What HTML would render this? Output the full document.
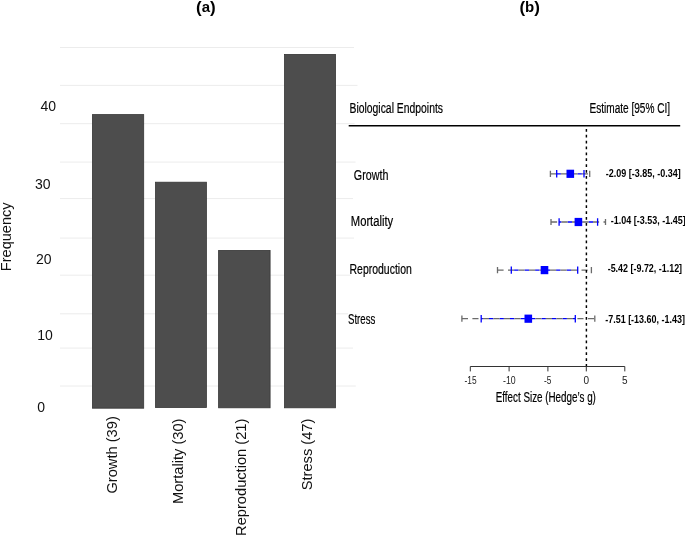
<!DOCTYPE html>
<html>
<head>
<meta charset="utf-8">
<title>Figure</title>
<style>
html,body{margin:0;padding:0;background:#fff;}
body{width:685px;height:535px;overflow:hidden;position:relative;font-family:"Liberation Sans",sans-serif;}
svg{position:absolute;left:0;top:0;display:block;will-change:transform;}
text{font-family:"Liberation Sans",sans-serif;fill:#000;}
.grid line{stroke:#ececec;stroke-width:1;}
.bar{fill:#4d4d4d;stroke:#363636;stroke-width:0.8;}
.ax{font-size:14px;fill:#111;}
.xl{font-size:14.67px;fill:#111;}
.rl{font-size:14px;stroke:#000;stroke-width:0.2px;}
.rw{font-size:14px;}
.est{font-size:10.4px;font-weight:bold;}
.tk{font-size:10px;fill:#1a1a1a;}
.g{stroke:#6b6b6b;stroke-width:1.3;fill:none;}
.b{stroke:#0000ff;stroke-width:1.3;fill:none;}
.sq{fill:#0000ff;}
</style>
</head>
<body>
<svg width="685" height="535" viewBox="0 0 685 535">
<rect x="0" y="0" width="685" height="535" fill="#ffffff"/>

<!-- panel titles -->
<text x="196.0" y="11.8" font-size="15" font-weight="bold"><tspan font-size="17" dy="1.3">(</tspan><tspan dy="-1.3" dx="0">a</tspan><tspan font-size="17" dy="1.3" dx="0">)</tspan></text>
<text x="519.4" y="11.8" font-size="15" font-weight="bold"><tspan font-size="17" dy="1.3">(</tspan><tspan dy="-1.3" dx="0">b</tspan><tspan font-size="17" dy="1.3" dx="0">)</tspan></text>

<!-- gridlines -->
<g class="grid">
<line x1="60" x2="354.0" y1="47.5" y2="47.5"/>
<line x1="60" x2="357.5" y1="85.4" y2="85.4"/>
<line x1="60" x2="354.6" y1="123.7" y2="123.7"/>
<line x1="60" x2="355.5" y1="162.1" y2="162.1"/>
<line x1="60" x2="353.0" y1="198.6" y2="198.6"/>
<line x1="60" x2="354.0" y1="238.1" y2="238.1"/>
<line x1="60" x2="350.7" y1="275.2" y2="275.2"/>
<line x1="60" x2="348.0" y1="313.8" y2="313.8"/>
<line x1="60" x2="353.0" y1="348.1" y2="348.1"/>
<line x1="60" x2="355.8" y1="386.0" y2="386.0"/>
</g>

<!-- bars -->
<rect class="bar" x="92.40" y="114.60" width="51.30" height="293.60"/>
<rect class="bar" x="155.50" y="182.20" width="50.90" height="225.30"/>
<rect class="bar" x="218.60" y="250.40" width="51.50" height="157.40"/>
<rect class="bar" x="284.50" y="54.40" width="51.00" height="353.40"/>

<!-- y tick labels -->
<text class="ax" x="40.4" y="111.2">40</text>
<text class="ax" x="35.0" y="188.5">30</text>
<text class="ax" x="36.0" y="263.9">20</text>
<text class="ax" x="37.2" y="340.3">10</text>
<text class="ax" x="37.3" y="411.8">0</text>

<!-- y axis title -->
<text class="xl" style="font-size:15.2px" transform="translate(10.9,271.2) rotate(-90)" textLength="68.8" lengthAdjust="spacingAndGlyphs">Frequency</text>

<!-- x labels (rotated) -->
<text class="xl" transform="translate(117.3,416.2) rotate(-90)" text-anchor="end">Growth (39)</text>
<text class="xl" transform="translate(183.1,418.5) rotate(-90)" text-anchor="end">Mortality (30)</text>
<text class="xl" transform="translate(245.8,418.6) rotate(-90)" text-anchor="end">Reproduction (21)</text>
<text class="xl" transform="translate(311.9,418.6) rotate(-90)" text-anchor="end">Stress (47)</text>

<!-- ===== right panel ===== -->
<text class="rl" x="349.5" y="112.8" textLength="93.5" lengthAdjust="spacingAndGlyphs">Biological Endpoints</text>
<text class="rl" x="589.5" y="112.8" textLength="80.6" lengthAdjust="spacingAndGlyphs">Estimate [95% CI]</text>
<line x1="348.7" x2="680.2" y1="125.8" y2="125.8" stroke="#000" stroke-width="1.4"/>

<!-- row labels -->
<text class="rl rw" x="353.8" y="179.7" textLength="34.6" lengthAdjust="spacingAndGlyphs">Growth</text>
<text class="rl rw" x="350.8" y="225.7" textLength="42.4" lengthAdjust="spacingAndGlyphs">Mortality</text>
<text class="rl rw" x="349.5" y="273.9" textLength="62.3" lengthAdjust="spacingAndGlyphs">Reproduction</text>
<text class="rl rw" x="348" y="323.8" textLength="27.3" lengthAdjust="spacingAndGlyphs">Stress</text>

<!-- Growth -->
<g>
<path class="b" d="M556.70 173.8H560.90M567.00 173.8H571.40M577.50 173.8H581.90"/>
<path class="g" d="M550.40 173.8H556.50M560.90 173.8H567.00M571.40 173.8H577.50M581.90 173.8H588.00"/>
<path class="g" d="M550.4 170.7V176.9M589.7 170.7V176.9"/>
<path class="b" d="M556.7 170.1V177.5M584.0 170.1V177.5"/>
<rect class="sq" x="566.5" y="169.7" width="7.6" height="8.2"/>
</g>
<!-- Mortality -->
<g>
<path class="b" d="M559.10 222.0H561.50M567.60 222.0H572.00M578.10 222.0H582.50M588.60 222.0H593.00"/>
<path class="g" d="M551.00 222.0H557.10M561.50 222.0H567.60M572.00 222.0H578.10M582.50 222.0H588.60M593.00 222.0H599.10M603.50 222.0H605.50"/>
<path class="g" d="M551.0 218.9V225.1M605.5 218.9V225.1"/>
<path class="b" d="M559.1 218.3V225.7M597.6 218.3V225.7"/>
<rect class="sq" x="574.6" y="217.9" width="7.6" height="8.2"/>
</g>
<!-- Reproduction -->
<g>
<path class="b" d="M514.10 270.1H518.50M524.60 270.1H529.00M535.10 270.1H539.50M545.60 270.1H550.00M556.10 270.1H560.50M566.60 270.1H571.00M577.10 270.1H577.70"/>
<path class="g" d="M497.50 270.1H503.60M508.00 270.1H514.10M518.50 270.1H524.60M529.00 270.1H535.10M539.50 270.1H545.60M550.00 270.1H556.10M560.50 270.1H566.60M571.00 270.1H577.10M581.50 270.1H587.60"/>
<path class="g" d="M497.5 267.0V273.2M591.4 267.0V273.2"/>
<path class="b" d="M511.3 266.4V273.8M577.7 266.4V273.8"/>
<rect class="sq" x="540.7" y="266.0" width="7.6" height="8.2"/>
</g>
<!-- Stress -->
<g>
<path class="b" d="M481.20 318.7H482.90M489.00 318.7H493.40M499.50 318.7H503.90M510.00 318.7H514.40M520.50 318.7H524.90M531.00 318.7H535.40M541.50 318.7H545.90M552.00 318.7H556.40M562.50 318.7H566.90M573.00 318.7H575.30"/>
<path class="g" d="M461.90 318.7H468.00M472.40 318.7H478.50M482.90 318.7H489.00M493.40 318.7H499.50M503.90 318.7H510.00M514.40 318.7H520.50M524.90 318.7H531.00M535.40 318.7H541.50M545.90 318.7H552.00M556.40 318.7H562.50M566.90 318.7H573.00M577.40 318.7H583.50M587.90 318.7H594.00"/>
<path class="g" d="M461.9 315.6V321.8M594.8 315.6V321.8"/>
<path class="b" d="M481.2 315.0V322.4M575.3 315.0V322.4"/>
<rect class="sq" x="524.5" y="314.6" width="7.6" height="8.2"/>
</g>

<!-- dotted zero line -->
<line x1="586.4" x2="586.4" y1="128.9" y2="366.4" stroke="#000" stroke-width="1.45" stroke-dasharray="2.75 3.13"/>

<!-- estimates -->
<text class="est" x="605.8" y="177.3" textLength="74.9" lengthAdjust="spacingAndGlyphs">-2.09 [-3.85, -0.34]</text>
<text class="est" x="610.8" y="224" textLength="74.9" lengthAdjust="spacingAndGlyphs">-1.04 [-3.53, -1.45]</text>
<text class="est" x="607.7" y="272.1" textLength="74.4" lengthAdjust="spacingAndGlyphs">-5.42 [-9.72, -1.12]</text>
<text class="est" x="605.2" y="322.5" textLength="79.8" lengthAdjust="spacingAndGlyphs">-7.51 [-13.60, -1.43]</text>

<!-- x axis -->
<path d="M470.3 371.4V366.5H624.8V371.4M509.1 366.5V371.4M547.9 366.5V371.4M586.3 366.5V371.4" stroke="#333" stroke-width="1" fill="none"/>
<text class="tk" x="470.6" y="383.8" text-anchor="middle" textLength="12.1" lengthAdjust="spacingAndGlyphs">-15</text>
<text class="tk" x="509.3" y="383.8" text-anchor="middle" textLength="12.6" lengthAdjust="spacingAndGlyphs">-10</text>
<text class="tk" x="547.7" y="383.8" text-anchor="middle" textLength="7.4" lengthAdjust="spacingAndGlyphs">-5</text>
<text class="tk" x="586.3" y="383.8" text-anchor="middle">0</text>
<text class="tk" x="624.7" y="383.8" text-anchor="middle">5</text>
<text class="rl" x="495.7" y="401.6" textLength="100.2" lengthAdjust="spacingAndGlyphs">Effect Size (Hedge’s g)</text>
</svg>
</body>
</html>
